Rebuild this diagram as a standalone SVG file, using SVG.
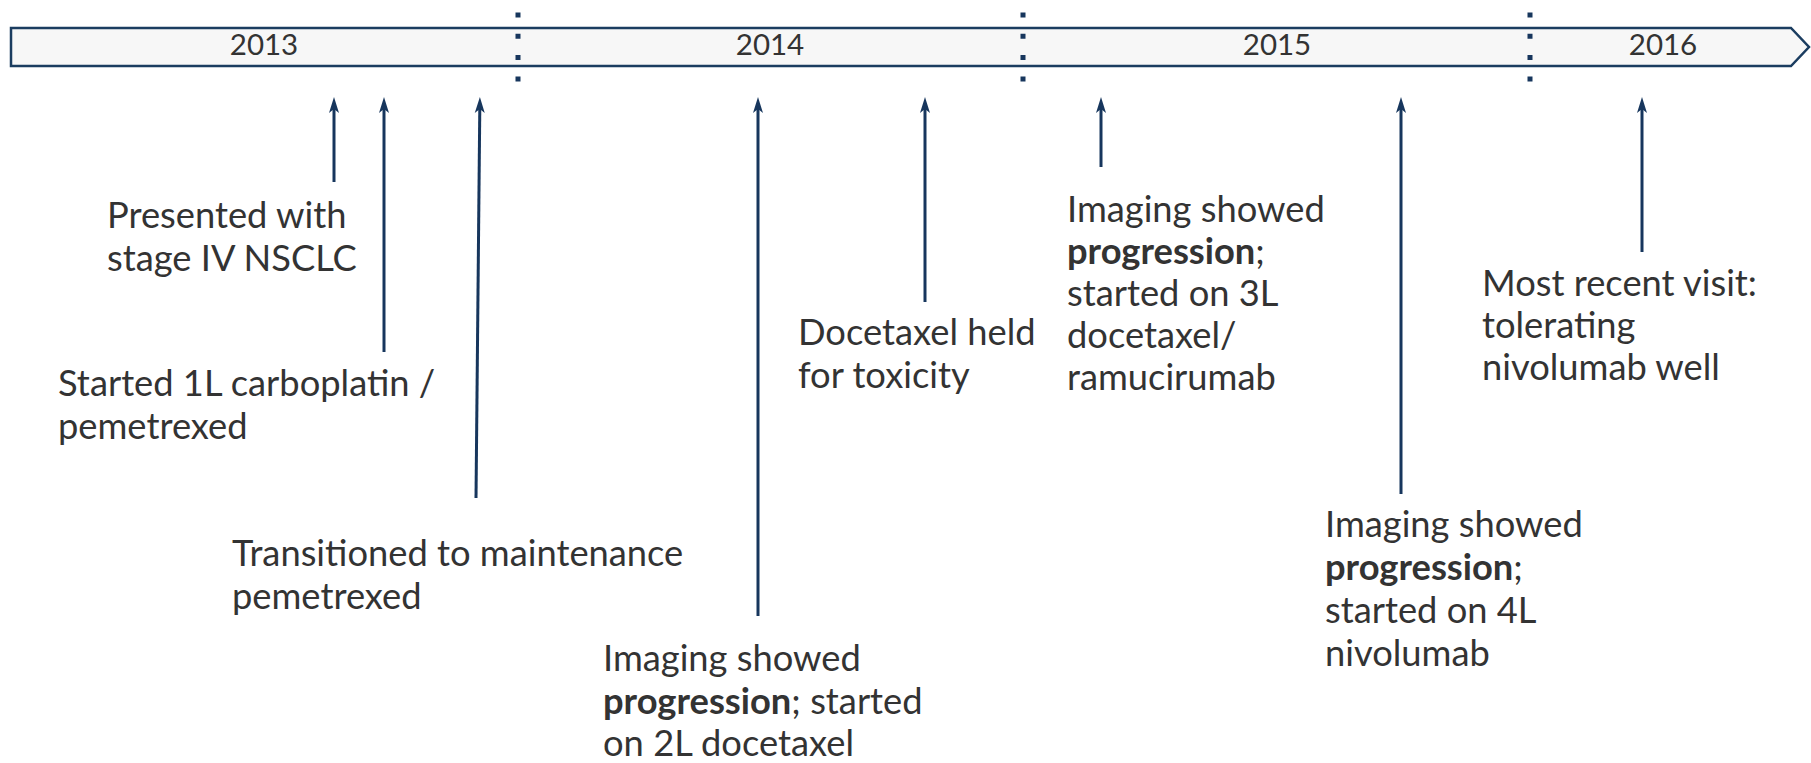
<svg xmlns="http://www.w3.org/2000/svg" width="1811" height="763" viewBox="0 0 1811 763">
  <style>
    .lbl { font-family: Lato, "Liberation Sans", sans-serif; font-size: 36.3px; fill: #333333; }
    .b { font-weight: bold; }
    .yr { font-family: Lato, "Liberation Sans", sans-serif; font-size: 29.5px; fill: #333333; text-anchor: middle; }
    .conn { stroke: #17365d; stroke-width: 3; fill: none; marker-end: url(#ah); }
    .div { stroke: #17365d; stroke-width: 5; stroke-dasharray: 5 16.3; }
  </style>
  <defs>
    <marker id="ah" markerUnits="userSpaceOnUse" viewBox="-17 -6 18 12" markerWidth="18" markerHeight="12" refX="-10" refY="0" orient="auto">
      <path d="M0,0 L-16,-5 L-12,0 L-16,5 Z" fill="#17365d"/>
    </marker>
  </defs>
  <rect width="1811" height="763" fill="#ffffff"/>

  <g id="timeline">
    <path d="M11,28 L1791,28 L1809,47 L1791,66 L11,66 Z" fill="#f7f7f7" stroke="#1b3d60" stroke-width="2.5"/>
    <text class="yr" x="264" y="55">2013</text>
    <text class="yr" x="770" y="55">2014</text>
    <text class="yr" x="1277" y="55">2015</text>
    <text class="yr" x="1663" y="55">2016</text>
    <line class="div" x1="518" y1="12.5" x2="518" y2="82"/>
    <line class="div" x1="1023" y1="12.5" x2="1023" y2="82"/>
    <line class="div" x1="1530" y1="12.5" x2="1530" y2="82"/>
  </g>

  <g id="connectors">
    <line class="conn" x1="334" y1="182" x2="334" y2="107"/>
    <line class="conn" x1="384" y1="352" x2="384" y2="107"/>
    <line class="conn" x1="476" y1="498" x2="479.8" y2="107"/>
    <line class="conn" x1="758" y1="616" x2="758" y2="107"/>
    <line class="conn" x1="925" y1="302" x2="925" y2="107"/>
    <line class="conn" x1="1101" y1="167" x2="1101" y2="107"/>
    <line class="conn" x1="1401" y1="494" x2="1401" y2="107"/>
    <line class="conn" x1="1642" y1="252" x2="1642" y2="107"/>
  </g>

  <g id="ev-presented">
    <text class="lbl" x="107" y="228">Presented with</text>
    <text class="lbl" x="107" y="270.5">stage IV NSCLC</text>
  </g>
  <g id="ev-1l">
    <text class="lbl" x="58" y="396">Started 1L carboplatin /</text>
    <text class="lbl" x="58" y="438.5">pemetrexed</text>
  </g>
  <g id="ev-maint">
    <text class="lbl" x="232" y="566">Transitioned to maintenance</text>
    <text class="lbl" x="232" y="608.5">pemetrexed</text>
  </g>
  <g id="ev-2l">
    <text class="lbl" x="603" y="671">Imaging showed</text>
    <text class="lbl" x="603" y="713.5"><tspan class="b">progression</tspan>; started</text>
    <text class="lbl" x="603" y="756">on 2L docetaxel</text>
  </g>
  <g id="ev-held">
    <text class="lbl" x="798" y="345">Docetaxel held</text>
    <text class="lbl" x="798" y="387.5">for toxicity</text>
  </g>
  <g id="ev-3l">
    <text class="lbl" x="1067" y="222">Imaging showed</text>
    <text class="lbl" x="1067" y="264"><tspan class="b">progression</tspan>;</text>
    <text class="lbl" x="1067" y="306">started on 3L</text>
    <text class="lbl" x="1067" y="348">docetaxel/</text>
    <text class="lbl" x="1067" y="390">ramucirumab</text>
  </g>
  <g id="ev-recent">
    <text class="lbl" x="1482" y="296">Most recent visit:</text>
    <text class="lbl" x="1482" y="338">tolerating</text>
    <text class="lbl" x="1482" y="380">nivolumab well</text>
  </g>
  <g id="ev-4l">
    <text class="lbl" x="1325" y="537">Imaging showed</text>
    <text class="lbl" x="1325" y="580"><tspan class="b">progression</tspan>;</text>
    <text class="lbl" x="1325" y="623">started on 4L</text>
    <text class="lbl" x="1325" y="666">nivolumab</text>
  </g>
</svg>
